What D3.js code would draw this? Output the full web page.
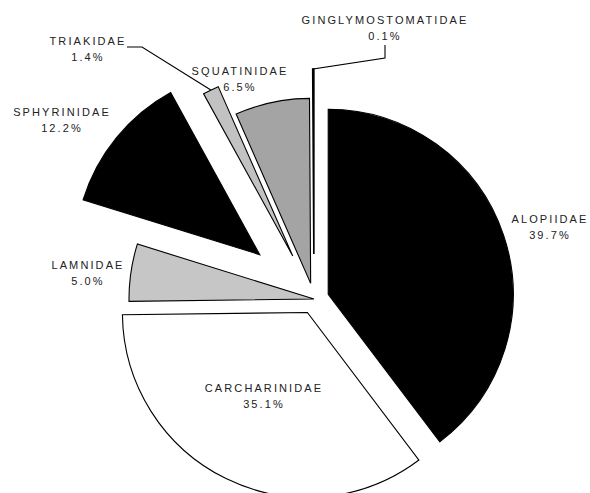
<!DOCTYPE html>
<html>
<head>
<meta charset="utf-8">
<script src="https://cdn.jsdelivr.net/npm/d3@7"></script>
<style>
  html, body { margin: 0; padding: 0; background: #fff; }
  svg { display: block; }
  text { font-family: "Liberation Sans", Arial, sans-serif; font-size: 11px; fill: #222; letter-spacing: 2.1px; }
</style>
</head>
<body>
<svg id="chart" width="590" height="493"></svg>
<script>
// ---- data ----
const families = ["ALOPIIDAE", "CARCHARINIDAE", "LAMNIDAE", "SPHYRINIDAE", "TRIAKIDAE", "SQUATINIDAE", "GINGLYMOSTOMATIDAE"];
const percents = [39.7, 35.1, 5.0, 12.2, 1.4, 6.5, 0.1];
const percentLabels = ["39.7%", "35.1%", "5.0%", "12.2%", "1.4%", "6.5%", "0.1%"];

// ---- layout / style ----
const W = 590, H = 493;
const cx = 314, cy = 299, R = 185;
const fills = {
  ALOPIIDAE: "#000", CARCHARINIDAE: "#fff", LAMNIDAE: "#c6c6c6", SPHYRINIDAE: "#000",
  TRIAKIDAE: "#c2c2c2", SQUATINIDAE: "#a4a4a4", GINGLYMOSTOMATIDAE: "#000"
};
const explode = {
  ALOPIIDAE: 15, CARCHARINIDAE: 15, LAMNIDAE: 0, SPHYRINIDAE: 70,
  TRIAKIDAE: 48, SQUATINIDAE: 16, GINGLYMOSTOMATIDAE: 45
};
const labelPos = {
  ALOPIIDAE: [550, 223], CARCHARINIDAE: [264, 392], LAMNIDAE: [88, 269], SPHYRINIDAE: [62, 116],
  TRIAKIDAE: [88, 45], SQUATINIDAE: [240, 75], GINGLYMOSTOMATIDAE: [385, 24]
};

const svg = d3.select("#chart");
const g = svg.append("g").attr("transform", `translate(${cx},${cy})`);

const data = families.map((f, i) => ({ name: f, value: percents[i], label: percentLabels[i] }));
const pie = d3.pie().sort(null).value(d => d.value).startAngle(0).endAngle(2 * Math.PI);
const arc = d3.arc().innerRadius(0).outerRadius(R);
const arcs = pie(data);

function offset(d) {
  const mid = (d.startAngle + d.endAngle) / 2;
  const k = explode[d.data.name];
  return [k * Math.sin(mid), -k * Math.cos(mid)];
}

g.selectAll("path.slice")
  .data(arcs)
  .join("path")
  .attr("class", "slice")
  .attr("d", arc)
  .attr("transform", d => { const o = offset(d); return `translate(${o[0]},${o[1]})`; })
  .attr("fill", d => fills[d.data.name])
  .attr("stroke", "#000")
  .attr("stroke-width", d => d.data.name === "GINGLYMOSTOMATIDAE" ? 1.6 : 1.1)
  .attr("stroke-linejoin", "miter");

// leader lines to outer edge of small slices
function outerMid(name) {
  const d = arcs.find(a => a.data.name === name);
  const mid = (d.startAngle + d.endAngle) / 2;
  const o = offset(d);
  return [cx + o[0] + R * Math.sin(mid), cy + o[1] - R * Math.cos(mid)];
}
const line = d3.line();
const tri = outerMid("TRIAKIDAE");
svg.append("path")
  .attr("d", line([[127, 47], [142, 47], tri]))
  .attr("fill", "none").attr("stroke", "#000").attr("stroke-width", 1.1);
const gin = outerMid("GINGLYMOSTOMATIDAE");
svg.append("path")
  .attr("d", line([[385, 45], [385, 58], [gin[0], 69], gin]))
  .attr("fill", "none").attr("stroke", "#000").attr("stroke-width", 1.1);

// labels
const labels = svg.selectAll("text.lab")
  .data(data)
  .join("text")
  .attr("class", "lab")
  .attr("text-anchor", "middle");
labels.append("tspan")
  .attr("x", d => labelPos[d.name][0])
  .attr("y", d => labelPos[d.name][1])
  .text(d => d.name);
labels.append("tspan")
  .attr("x", d => labelPos[d.name][0])
  .attr("y", d => labelPos[d.name][1] + 16)
  .text(d => d.label);
</script>
</body>
</html>
